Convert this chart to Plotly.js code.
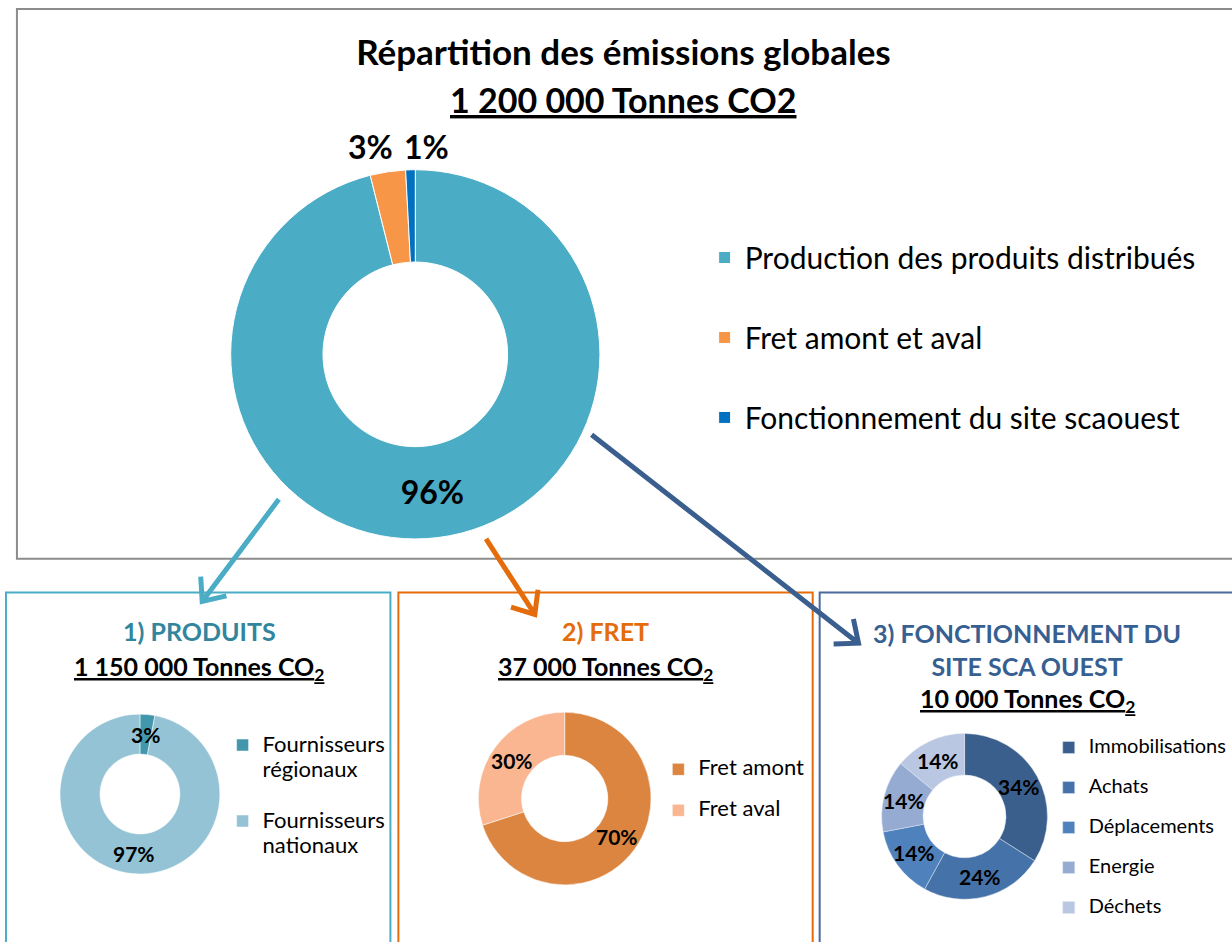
<!DOCTYPE html>
<html><head><meta charset="utf-8">
<script src="https://cdn.plot.ly/plotly-3.0.1.min.js"></script>
<style>html,body{margin:0;padding:0;background:#fff}#chart{width:1232px;height:942px}</style>
</head><body><div id="chart"></div>
<script>
// ---------- data ----------
const totalEmissions = 1200000;
const mainCategories = ['Production des produits distribués', 'Fret amont et aval', 'Fonctionnement du site scaouest'];
const mainValues = [1150000, 37000, 10000];
const prodCategories = ['Fournisseurs régionaux', 'Fournisseurs nationaux'];
const prodValues = [3, 97];
const fretCategories = ['Fret amont', 'Fret aval'];
const fretValues = [70, 30];
const siteCategories = ['Immobilisations', 'Achats', 'Déplacements', 'Energie', 'Déchets'];
const siteValues = [34, 24, 14, 14, 14];
const panelTitles = ['1) PRODUITS', '2) FRET', '3) FONCTIONNEMENT DU<br>SITE SCA OUEST'];

// ---------- helpers ----------
const FONT = 'Lato, "Liberation Sans", Arial, sans-serif';
const W = 1232, H = 942;
const px = x => x / W;
const py = y => 1 - y / H;
const pieDomain = (cx, cy, r) => ({x: [px(cx - r), px(cx + r)], y: [py(cy + r), py(cy - r)]});
const fmt = n => String(n).replace(/\B(?=(\d{3})+(?!\d))/g, ' ');
function legendText(lines, size) {
  return lines.map(l => '<span style="font-size:' + size + 'px">' + l + '</span>').join('<br>') + '<br>\u00a0';
}
function arrowPath(x0, y0, x1, y1, len, ang) {
  const a = Math.atan2(y1 - y0, x1 - x0);
  const p = (x, y) => px(x) + ',' + py(y);
  const l1 = [x1 - len * Math.cos(a - ang), y1 - len * Math.sin(a - ang)];
  const l2 = [x1 - len * Math.cos(a + ang), y1 - len * Math.sin(a + ang)];
  return 'M' + p(x0, y0) + 'L' + p(x1, y1) + 'M' + p(l1[0], l1[1]) + 'L' + p(x1, y1) + 'L' + p(l2[0], l2[1]);
}
const pctFont = size => ({family: FONT, size: size, color: '#000000', weight: 'bold'});

// percentage label of each slice, at the middle angle of the slice (clockwise from 12 o'clock)
function sliceLabels(values, cx, cy, radius) {
  const total = values.reduce((a, b) => a + b, 0);
  let cum = 0;
  return values.map(v => {
    const mid = (cum + v / 2) / total * 2 * Math.PI;
    cum += v;
    return {x: cx + radius * Math.sin(mid), y: cy - radius * Math.cos(mid),
            text: Math.round(v / total * 100) + '%'};
  });
}
const pctAnn = (p, size, xanchor) => ({
  xref: 'paper', yref: 'paper', x: px(p.x), y: py(p.y), xanchor: xanchor || 'center', yanchor: 'middle',
  text: '<b>' + p.text + '</b>', showarrow: false, font: {family: FONT, size: size, color: '#000000'}
});

// ---------- geometry of the donuts ----------
const G = {cx: 417, cy: 357, r: 186};
const P1 = {cx: 140.5, cy: 800, r: 80.5};
const P2 = {cx: 567, cy: 804.5, r: 87};
const P3 = {cx: 968.5, cy: 822.5, r: 83.5};
const HOLE = 0.5;
const midR = d => d.r * (1 + HOLE) / 2;

// ---------- traces ----------
const pieBase = (d) => ({
  type: 'pie', sort: false, direction: 'clockwise', rotation: 0, hole: HOLE,
  domain: pieDomain(d.cx, d.cy, d.r), hoverinfo: 'none'
});
const traces = [
  Object.assign(pieBase(G), {
    name: 'global',
    labels: mainCategories.map(c => legendText([c], 30)), values: mainValues,
    marker: {colors: ['#4bacc6', '#f79646', '#0070c0'], line: {color: '#ffffff', width: 1}},
    texttemplate: '%{percent:.0%}', textposition: ['inside', 'none', 'none'],
    insidetextorientation: 'horizontal',
    textfont: pctFont(32), insidetextfont: pctFont(32),
    legend: 'legend'
  }),
  Object.assign(pieBase(P1), {
    name: 'produits',
    labels: prodCategories.map(c => legendText(c.split(' '), 22)), values: prodValues,
    marker: {colors: ['#4397ad', '#93c3d5'], line: {color: '#ffffff', width: 0.5}},
    textinfo: 'none', legend: 'legend2'
  }),
  Object.assign(pieBase(P2), {
    name: 'fret',
    labels: fretCategories.map(c => legendText([c], 22)), values: fretValues,
    marker: {colors: ['#dc8541', '#f9b691'], line: {color: '#ffffff', width: 0.5}},
    textinfo: 'none', legend: 'legend3'
  }),
  Object.assign(pieBase(P3), {
    name: 'site',
    labels: siteCategories.map(c => legendText([c], 20)), values: siteValues,
    marker: {colors: ['#3b5f8d', '#4672aa', '#4f81bd', '#95abd2', '#b9c7e2'], line: {color: '#dfe6f0', width: 0.5}},
    textinfo: 'none', legend: 'legend4'
  })
];

// ---------- percentage labels ----------
const pctAnns = [];
// global donut: the two thin slices get their labels side by side above the ring
const gOut = sliceLabels(mainValues, G.cx, G.cy, G.r + 26);
const rowMid = (gOut[1].x + gOut[2].x) / 2;
pctAnns.push(pctAnn({x: rowMid - 2, y: gOut[1].y, text: gOut[1].text}, 32, 'right'));
pctAnns.push(pctAnn({x: rowMid + 5, y: gOut[1].y, text: gOut[2].text}, 32, 'left'));
sliceLabels(prodValues, P1.cx, P1.cy, midR(P1)).forEach(p => pctAnns.push(pctAnn(p, 21)));
sliceLabels(fretValues, P2.cx, P2.cy, midR(P2)).forEach(p => pctAnns.push(pctAnn(p, 21)));
sliceLabels(siteValues, P3.cx, P3.cy, midR(P3)).forEach(p => pctAnns.push(pctAnn(p, 21)));

// ---------- layout ----------
const legendBase = (x, y, size) => ({
  x: px(x), y: py(y), xanchor: 'left', yanchor: 'top', valign: 'top',
  font: {family: FONT, size: size, color: '#000000'},
  bgcolor: 'rgba(0,0,0,0)', borderwidth: 0, itemclick: false, itemdoubleclick: false
});

const ann = (x, y, text, size, color) => ({
  xref: 'paper', yref: 'paper', x: px(x), y: py(y), xanchor: 'center', yanchor: 'middle',
  text: text, showarrow: false, font: {family: FONT, size: size, color: color}
});
const co2 = n => '<b><u>' + fmt(n) + ' Tonnes CO<sub>2</sub></u></b>';

const layout = {
  width: W, height: H,
  margin: {l: 0, r: 0, t: 0, b: 0},
  paper_bgcolor: '#ffffff', plot_bgcolor: '#ffffff',
  font: {family: FONT, color: '#000000'},
  title: {
    text: '<b>Répartition des émissions globales</b>',
    font: {family: FONT, size: 35, color: '#000000'},
    x: px(626), xanchor: 'center', xref: 'paper',
    y: py(53), yanchor: 'middle', yref: 'container'
  },
  showlegend: true,
  legend: legendBase(707.5, 233.5, 29.6),
  legend2: legendBase(223.5, 731.8, 18.72),
  legend3: legendBase(661, 759, 14.615),
  legend4: legendBase(1053, 737.25, 14.23),
  annotations: [
    ann(626, 100, '<b><u>' + fmt(totalEmissions) + ' Tonnes CO2</u></b>', 34, '#000000'),
    ann(200, 636, '<b>' + panelTitles[0] + '</b>', 25, '#31859c'),
    ann(200, 673, co2(mainValues[0]), 25, '#000000'),
    ann(608, 636, '<b>' + panelTitles[1] + '</b>', 25, '#e46c0a'),
    ann(608, 673, co2(mainValues[1]), 25, '#000000'),
    ann(1031, 654, '<b>' + panelTitles[2] + '</b>', 25, '#376092'),
    ann(1032, 705, co2(mainValues[2]), 25, '#000000')
  ].concat(pctAnns),
  shapes: [
    {type: 'rect', xref: 'paper', yref: 'paper', x0: px(17), x1: px(1260), y0: py(9), y1: py(563),
     line: {color: '#8c8c8c', width: 2}, layer: 'below'},
    {type: 'rect', xref: 'paper', yref: 'paper', x0: px(6), x1: px(392), y0: py(597), y1: py(990),
     line: {color: '#4bacc6', width: 2}, layer: 'below'},
    {type: 'rect', xref: 'paper', yref: 'paper', x0: px(400), x1: px(816), y0: py(597), y1: py(990),
     line: {color: '#e46c0a', width: 2}, layer: 'below'},
    {type: 'rect', xref: 'paper', yref: 'paper', x0: px(823), x1: px(1260), y0: py(597), y1: py(990),
     line: {color: '#4a6b9c', width: 2}, layer: 'below'},
    {type: 'path', xref: 'paper', yref: 'paper', path: arrowPath(280, 503, 203, 606, 25, 0.7),
     line: {color: '#4bacc6', width: 5}},
    {type: 'path', xref: 'paper', yref: 'paper', path: arrowPath(488, 543, 537, 619, 25, 0.7),
     line: {color: '#e46c0a', width: 5}},
    {type: 'path', xref: 'paper', yref: 'paper', path: arrowPath(594, 438, 862, 648, 25, 0.7),
     line: {color: '#3a5f8f', width: 5}}
  ]
};

Plotly.newPlot('chart', traces, layout, {displayModeBar: false, staticPlot: true});
</script>
</body></html>
